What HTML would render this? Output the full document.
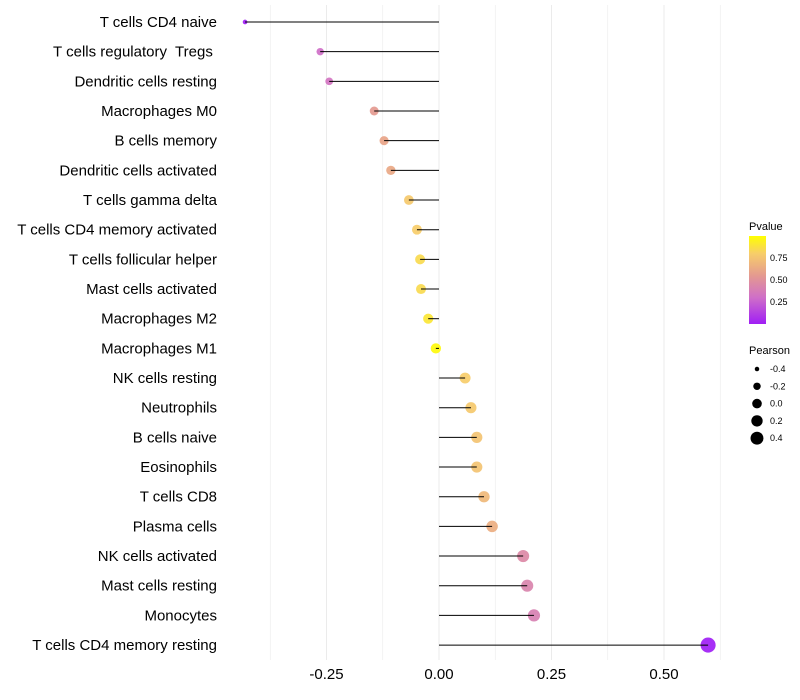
<!DOCTYPE html>
<html><head><meta charset="utf-8"><style>
body{margin:0;background:#fff;font-family:"Liberation Sans",sans-serif}
svg{display:block}
svg text{white-space:pre}
</style></head><body>
<svg id="chart" width="800" height="700">
<defs><linearGradient id="pg" x1="0" y1="1" x2="0" y2="0">
<stop offset="0" stop-color="#a01ef5"/><stop offset="0.3" stop-color="#cf6fc8"/><stop offset="0.55" stop-color="#e49a90"/><stop offset="0.8" stop-color="#f7cd6a"/><stop offset="1" stop-color="#ffff00"/></linearGradient></defs>
<g id="grid"></g><g id="marks"></g><g id="ylabels"></g><g id="xlabels"></g>
<g>
<text x="749" y="230" font-size="11" fill="#000">Pvalue</text>
<rect x="749" y="236" width="17" height="88" fill="url(#pg)"/>
<text x="770" y="261" font-size="9">0.75</text><text x="770" y="283" font-size="9">0.50</text><text x="770" y="305" font-size="9">0.25</text>
</g>
<g id="sizeLegend">
<text x="749" y="354" font-size="11">Pearson</text>
</g>
</svg>
<script>
const categories=["T cells CD4 naive","T cells regulatory  Tregs ","Dendritic cells resting","Macrophages M0","B cells memory","Dendritic cells activated","T cells gamma delta","T cells CD4 memory activated","T cells follicular helper","Mast cells activated","Macrophages M2","Macrophages M1","NK cells resting","Neutrophils","B cells naive","Eosinophils","T cells CD8","Plasma cells","NK cells activated","Mast cells resting","Monocytes","T cells CD4 memory resting"];
const pearson=[-0.431,-0.264,-0.244,-0.144,-0.122,-0.107,-0.067,-0.049,-0.042,-0.040,-0.024,-0.007,0.058,0.071,0.084,0.084,0.100,0.118,0.187,0.196,0.211,0.598];
const pvalue=[0.0,0.3,0.33,0.55,0.6,0.62,0.78,0.8,0.85,0.85,0.9,0.98,0.8,0.78,0.75,0.75,0.7,0.65,0.45,0.42,0.4,0.0];
const xTicks=[-0.25,0,0.25,0.5];
const xTickLabels=["-0.25","0.00","0.25","0.50"];
const legendVals=[-0.4,-0.2,0,0.2,0.4];
const NS="http://www.w3.org/2000/svg";
const x=v=>439+v*450;
const y=i=>22+i*29.67;
const r=v=>Math.sqrt(Math.max(2.5,27+50*v));
const stops=[[0,[160,30,245]],[0.3,[207,111,200]],[0.55,[228,154,144]],[0.8,[247,205,106]],[1,[255,255,0]]];
function col(p){for(let k=1;k<stops.length;k++){if(p<=stops[k][0]){const a=stops[k-1],b=stops[k],t=(p-a[0])/(b[0]-a[0]);return "rgb("+a[1].map((c,j)=>Math.round(c+(b[1][j]-c)*t)).join(",")+")";}}return "rgb(255,255,0)";}
function mk(tag,attrs,parent){const e=document.createElementNS(NS,tag);for(const k in attrs)e.setAttribute(k,attrs[k]);parent.appendChild(e);return e;}
const grid=document.getElementById('grid'),marks=document.getElementById('marks'),yl=document.getElementById('ylabels'),xl=document.getElementById('xlabels');
for(let v=-0.375;v<=0.626;v+=0.125){const g=mk('line',{x1:x(v),x2:x(v),y1:5,y2:660,stroke:'#ebebeb','stroke-width':Math.abs((v*4)%1)<0.01?1:0.6},grid);

}
xTicks.forEach((v,i)=>{const t=mk('text',{x:x(v),y:679,'font-size':15,'text-anchor':'middle',fill:'#000'},xl);t.textContent=xTickLabels[i];

});
categories.forEach((c,i)=>{
const t=mk('text',{x:217,y:y(i)+5,'font-size':15,'text-anchor':'end',fill:'#000'},yl);t.textContent=c;


const d=mk('circle',{cx:x(pearson[i]),cy:y(i),r:r(pearson[i]),fill:col(pvalue[i]),'fill-opacity':0.92},marks);


const l=mk('line',{x1:x(0),x2:x(pearson[i]),y1:y(i),y2:y(i),stroke:'#000','stroke-width':1},marks);


});
const sl=document.getElementById('sizeLegend');
legendVals.forEach((v,i)=>{const cy=369+i*17.3;
const c=mk('circle',{cx:757,cy:cy,r:r(v)-0.4,fill:'#000'},sl);


const t=mk('text',{x:770,y:cy+3,'font-size':9},sl);t.textContent=v.toFixed(1);

});
</script>
</body></html>
